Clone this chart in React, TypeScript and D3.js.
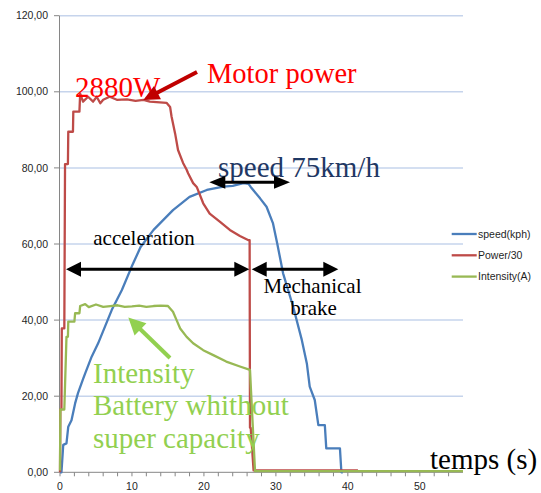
import React from "react";
import * as d3 from "d3";

// ---- data (time in s, value) ----
const speedData: [number, number][] = [
  [0, 0], [0.2, 0], [0.45, 7.2], [0.9, 7.6], [1.15, 12], [1.6, 13.7], [2.1, 18.1], [2.5, 20.8],
  [3.2, 24.5], [3.5, 26], [4.4, 30.4], [5.3, 33.9], [6.25, 38.3], [7.2, 42.7], [8.6, 47.9],
  [9.95, 54], [11.2, 59.2], [13, 63.7], [15.7, 68.9], [18, 72.4], [20.4, 74.2], [22.7, 75.1],
  [24, 75.3], [25.5, 76], [26.2, 75.8], [26.5, 75], [27.8, 72], [28.7, 69.8], [29.6, 65.4],
  [30.2, 60], [31, 52.3], [32.4, 43.5], [33.6, 34.8], [34.3, 28.6], [34.7, 22.5], [35.4, 19],
  [35.9, 12.4], [36.8, 12.4], [37, 6.3], [38.9, 6.3], [39.1, 0], [39.3, 0],
];
const powerData: [number, number][] = [
  [0, 0], [0.05, 16.5], [0.2, 16.5], [0.25, 37.8], [0.6, 37.8], [0.7, 81], [1.1, 81], [1.15, 89.5],
  [1.8, 89.5], [1.85, 94.8], [2.7, 94.8], [2.8, 99.5], [3.2, 97.4], [3.9, 98.7], [4.6, 97.4],
  [5.1, 98.7], [5.6, 97], [6, 97.9], [6.9, 98.7], [7.9, 97.9], [9.3, 98], [10.5, 97.6],
  [11.6, 97.9], [12.5, 97.4], [14.8, 97.1], [15.3, 96], [15.5, 93.5], [16, 89], [16.4, 84.7],
  [17.1, 81.3], [17.6, 79.5], [17.8, 78.6], [18.5, 76], [19, 75], [19.9, 70.7], [20.8, 68],
  [22.2, 65.9], [23.6, 63.7], [25, 62.1], [26.2, 61], [26.35, 61], [26.4, 11.7], [26.5, 11.7],
  [26.9, 0.5], [41.4, 0.5],
];
const intensityData: [number, number][] = [
  [0, 0.5], [0.05, 16.5], [0.6, 16.5], [0.9, 35.6], [1.1, 35.6], [1.15, 39.6], [2.0, 39.6],
  [2.1, 41.8], [2.7, 41.8], [2.8, 43.7], [3.5, 44.2], [4, 43.4], [5, 44.1], [6, 43.5], [7, 43.7],
  [8, 43.9], [9, 43.5], [10, 43.6], [11, 43.8], [12, 43.5], [13, 43.7], [14, 43.8], [15, 43.7],
  [15.7, 42.2], [16.2, 40], [16.7, 37.8], [17.6, 35.6], [18.5, 33.9], [19.9, 32.1], [21.3, 30.8],
  [23.1, 29.1], [25, 27.8], [26.4, 26.9], [27.1, 0.3], [56, 0.3],
];

const seriesNames = ["speed(kph)", "Power/30", "Intensity(A)"];
const seriesColors = ["#4a7ebb", "#be4b48", "#98b954"];
const yTicks = [0, 20, 40, 60, 80, 100, 120];
const xMajorTicks = [0, 10, 20, 30, 40, 50];
const xMinorTicks = d3.range(0, 56, 2);

const W = 541;
const H = 493;
const serif = "'Liberation Serif', 'Times New Roman', serif";
const sans = "'Liberation Sans', Arial, sans-serif";

function Arrow({ x1, y1, x2, y2, color, width, headLen, headW, both }: any) {
  const head = (tx: number, ty: number, fx: number, fy: number) => {
    const ang = Math.atan2(ty - fy, tx - fx);
    const bx = tx - headLen * Math.cos(ang);
    const by = ty - headLen * Math.sin(ang);
    const px = -Math.sin(ang) * headW / 2;
    const py = Math.cos(ang) * headW / 2;
    return `M${tx},${ty} L${bx + px},${by + py} L${bx - px},${by - py} Z`;
  };
  const ang = Math.atan2(y2 - y1, x2 - x1);
  const sx = both ? x1 + (headLen - 2) * Math.cos(ang) : x1;
  const sy = both ? y1 + (headLen - 2) * Math.sin(ang) : y1;
  const ex = x2 - (headLen - 2) * Math.cos(ang);
  const ey = y2 - (headLen - 2) * Math.sin(ang);
  return (
    <g>
      <line x1={sx} y1={sy} x2={ex} y2={ey} stroke={color} strokeWidth={width} />
      <path d={head(x2, y2, x1, y1)} fill={color} />
      {both && <path d={head(x1, y1, x2, y2)} fill={color} />}
    </g>
  );
}

export default function App() {
  const x = d3.scaleLinear().domain([0, 56]).range([60, 463]);
  const y = d3.scaleLinear().domain([0, 120]).range([472.3, 15.7]);
  const line = d3.line<[number, number]>().x((d) => x(d[0])).y((d) => y(d[1]));
  const all = [speedData, powerData, intensityData];

  return (
    <svg width={W} height={H} style={{ position: "absolute", left: 0, top: 0, background: "#fff" }}>
      {/* gridlines */}
      {yTicks.filter((t) => t > 0).map((t) => (
        <line key={t} x1={x(0)} x2={x(56)} y1={y(t)} y2={y(t)} stroke="#c6d4ec" strokeWidth={1.5} />
      ))}
      {/* axes */}
      <line x1={59.5} x2={59.5} y1={y(120)} y2={y(0)} stroke="#868686" strokeWidth={1} />
      <line x1={59.5} x2={x(56)} y1={y(0)} y2={y(0)} stroke="#868686" strokeWidth={1} />
      {yTicks.map((t) => (
        <g key={t}>
          <line x1={54} x2={59.5} y1={y(t)} y2={y(t)} stroke="#868686" />
          <text x={48} y={y(t)} dy="0.35em" textAnchor="end" fontFamily={sans} fontSize={10.5} fill="#1f1f1f">
            {d3.format(".2f")(t).replace(".", ",")}
          </text>
        </g>
      ))}
      {xMinorTicks.map((t) => (
        <line key={t} x1={x(t)} x2={x(t)} y1={y(0)} y2={y(0) + 4} stroke="#868686" />
      ))}
      {xMajorTicks.map((t) => (
        <text key={t} x={x(t)} y={490} textAnchor="middle" fontFamily={sans} fontSize={10.5} fill="#1f1f1f">
          {t}
        </text>
      ))}
      {/* series */}
      {all.map((d, i) => (
        <path key={i} d={line(d) || ""} fill="none" stroke={seriesColors[i]} strokeWidth={2.3} strokeLinejoin="round" />
      ))}
      {/* legend */}
      {seriesNames.map((n, i) => (
        <g key={n}>
          <line x1={451.7} x2={476.7} y1={234 + i * 21.3} y2={234 + i * 21.3} stroke={seriesColors[i]} strokeWidth={2.3} />
          <text x={478} y={234 + i * 21.3} dy="0.35em" fontFamily={sans} fontSize={10.5} fill="#1f1f1f">{n}</text>
        </g>
      ))}
      {/* annotations */}
      <text x={75} y={97} fontFamily={serif} fontSize={29} fill="#ff0000">2880W</text>
      <text x={207} y={83} fontFamily={serif} fontSize={28.5} fill="#ff0000">Motor power</text>
      <Arrow x1={197} y1={72} x2={143.3} y2={100} color="#c00000" width={4} headLen={16} headW={15} />
      <text x={218} y={177} fontFamily={serif} fontSize={29} fill="#1f3864">speed 75km/h</text>
      <Arrow x1={209.3} y1={182.3} x2={290} y2={182.3} color="#000" width={3} headLen={16} headW={13} both />
      <text x={93.3} y={245} fontFamily={serif} fontSize={21} fill="#000">acceleration</text>
      <Arrow x1={66} y1={269.3} x2={249.3} y2={269.3} color="#000" width={3} headLen={15} headW={15} both />
      <Arrow x1={251.7} y1={269.3} x2={338.3} y2={269.3} color="#000" width={3} headLen={15} headW={15} both />
      <text x={312.5} y={293.3} textAnchor="middle" fontFamily={serif} fontSize={21} fill="#000">Mechanical</text>
      <text x={313.5} y={315} textAnchor="middle" fontFamily={serif} fontSize={21} fill="#000">brake</text>
      <Arrow x1={170} y1={358} x2={128.3} y2={317.5} color="#92d050" width={4} headLen={17} headW={17} />
      <text x={93} y={382.7} fontFamily={serif} fontSize={29} fill="#92d050">Intensity</text>
      <text x={93} y={415} fontFamily={serif} fontSize={29} fill="#92d050">Battery whithout</text>
      <text x={93} y={448} fontFamily={serif} fontSize={29} fill="#92d050">super capacity</text>
      <text x={430} y={469.3} fontFamily={serif} fontSize={29} fill="#000">temps (s)</text>
    </svg>
  );
}
